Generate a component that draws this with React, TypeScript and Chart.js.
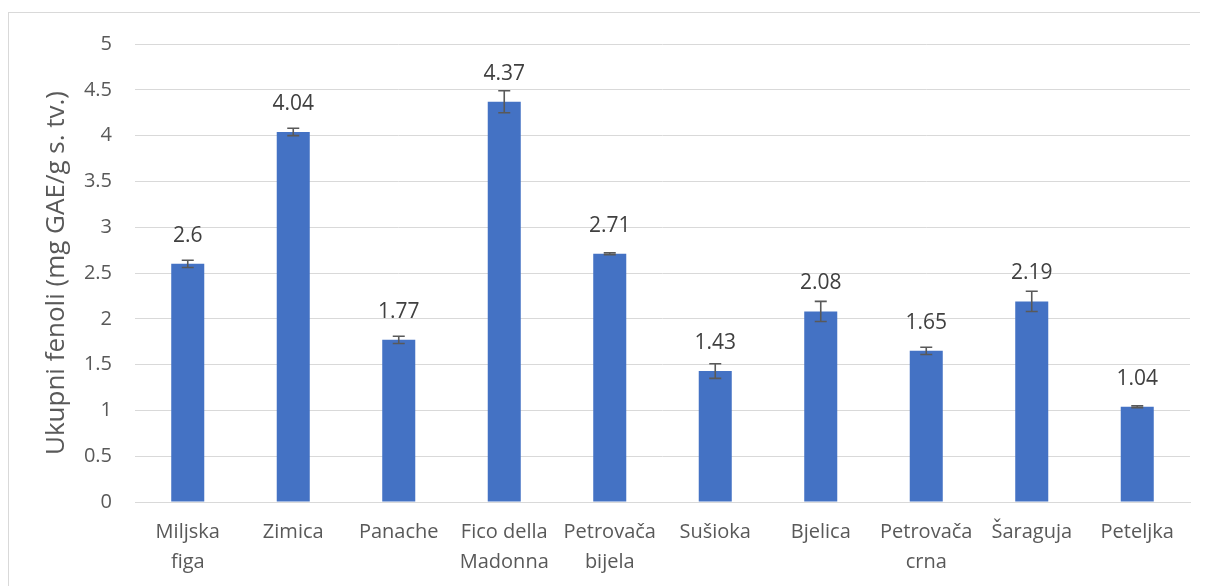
import React, { useEffect, useRef } from "react";
import { Chart, registerables } from "chart.js";
Chart.register(...registerables);

const categories: (string | string[])[] = [
  ["Miljska", "figa"],
  "Zimica",
  "Panache",
  ["Fico della", "Madonna"],
  ["Petrovača", "bijela"],
  "Sušioka",
  "Bjelica",
  ["Petrovača", "crna"],
  "Šaraguja",
  "Peteljka",
];
const values = [2.6, 4.04, 1.77, 4.37, 2.71, 1.43, 2.08, 1.65, 2.19, 1.04];
const errors = [0.04, 0.04, 0.04, 0.12, 0.01, 0.08, 0.11, 0.04, 0.11, 0.01];
const yMin = 0;
const yMax = 5;
const yStep = 0.5;
const yTitle = "Ukupni fenoli (mg GAE/g s. tv.)";

const FONT = "'Open Sans', sans-serif";
const TEXT = "#595959";

const barExtras = {
  id: "barExtras",
  afterDatasetsDraw(chart: any) {
    const ctx = chart.ctx;
    const meta = chart.getDatasetMeta(0);
    const y = chart.scales.y;
    ctx.save();
    meta.data.forEach((bar: any, i: number) => {
      const x = bar.x;
      const top = y.getPixelForValue(values[i] + errors[i]);
      const bot = y.getPixelForValue(values[i] - errors[i]);
      ctx.strokeStyle = "#595959";
      ctx.lineWidth = 1.6;
      ctx.beginPath();
      ctx.moveTo(x, top);
      ctx.lineTo(x, bot);
      ctx.moveTo(x - 6, top);
      ctx.lineTo(x + 6, top);
      ctx.moveTo(x - 6, bot);
      ctx.lineTo(x + 6, bot);
      ctx.stroke();
      ctx.fillStyle = "#404040";
      ctx.font = `21px ${FONT}`;
      ctx.textAlign = "center";
      ctx.textBaseline = "middle";
      ctx.fillText(String(values[i]), x, y.getPixelForValue(values[i]) - 28);
    });
    ctx.restore();
  },
};

export default function App() {
  const ref = useRef<HTMLCanvasElement>(null);
  useEffect(() => {
    document.body.style.overflow = "hidden";
    if (!ref.current) return;
    const chart = new Chart(ref.current, {
      type: "bar",
      data: {
        labels: categories,
        datasets: [
          {
            data: values,
            backgroundColor: "#4472C4",
            borderWidth: 0,
            categoryPercentage: 1,
            barPercentage: 0.313,
          },
        ],
      },
      options: {
        animation: false,
        responsive: false,
        devicePixelRatio: 1,
        layout: { padding: { left: 0, top: 24, right: 18, bottom: 0 } },
        plugins: { legend: { display: false }, tooltip: { enabled: false } },
        scales: {
          x: {
            grid: { display: false, drawTicks: false },
            border: { color: "#d9d9d9", width: 1 },
            ticks: {
              color: TEXT,
              font: { family: FONT, size: 20, lineHeight: 1.5 },
              padding: 15,
              maxRotation: 0,
              autoSkip: false,
            },
            afterFit: (s: any) => {
              s.height = 107;
            },
          },
          y: {
            min: yMin,
            max: yMax,
            ticks: {
              stepSize: yStep,
              color: TEXT,
              font: { family: FONT, size: 20 },
              padding: 23,
              callback: (v: any) => String(v),
            },
            grid: { color: "#d9d9d9", lineWidth: 1, drawTicks: false },
            border: { display: false },
            title: {
              display: true,
              text: yTitle,
              color: TEXT,
              font: { family: FONT, size: 26, lineHeight: 1.2 },
              padding: { top: 32, bottom: 0 },
            },
            afterFit: (s: any) => {
              s.width = 126;
            },
          },
        },
      },
      plugins: [barExtras],
    });
    return () => chart.destroy();
  }, []);
  return (
    <div style={{ paddingTop: 4 }}>
      <div
        style={{
          borderLeft: "1px solid #d9d9d9",
          borderTop: "1px solid #d9d9d9",
          width: 1199,
          height: 600,
          background: "#fff",
        }}
      >
        <canvas
          ref={ref}
          width={1199}
          height={600}
          style={{ display: "block", marginTop: -4 }}
        />
      </div>
    </div>
  );
}
